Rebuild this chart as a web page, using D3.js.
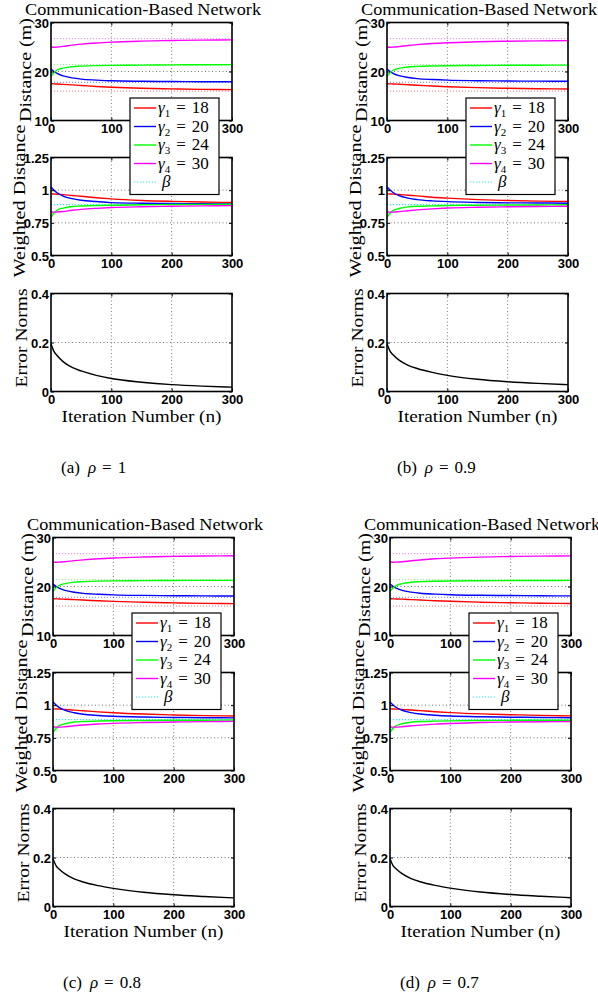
<!DOCTYPE html>
<html>
<head>
<meta charset="utf-8">
<script src="https://cdn.jsdelivr.net/npm/d3@7"></script>
<style>
  body { margin: 0; background: #fff; }
  .tick text { font-family: "Liberation Sans Narrow", "Liberation Sans", Arial, sans-serif; font-weight: bold; font-size: 13px; fill: #000; }
  .serif { font-family: "Liberation Serif", "Times New Roman", serif; fill: #000; }
</style>
</head>
<body>
<div id="chart"></div>
<script>
var iterN = [0, 5, 10, 20, 35, 50, 75, 100, 150, 200, 250, 300];

var panelTags = ["(a)", "(b)", "(c)", "(d)"];
var rhoValues = ["1", "0.9", "0.8", "0.7"];
var gammaValues = [18, 20, 24, 30];
var betaValue = 0.89;
var targetDist = [16.0, 17.8, 21.4, 26.7];

var distTicks = [10, 20, 30];
var weightTicks = [0.5, 0.75, 1, 1.25];
var errTicks = [0, 0.2, 0.4];
var iterTicks = [0, 100, 200, 300];

// distance (m), one row per panel
var distRed = [
  [17.5, 17.48, 17.45, 17.38, 17.27, 17.15, 16.95, 16.8, 16.58, 16.45, 16.36, 16.3],
  [17.5, 17.48, 17.46, 17.4, 17.3, 17.2, 17.03, 16.9, 16.7, 16.57, 16.49, 16.44],
  [17.5, 17.48, 17.46, 17.41, 17.32, 17.23, 17.08, 16.96, 16.78, 16.65, 16.56, 16.5],
  [17.5, 17.48, 17.46, 17.42, 17.33, 17.24, 17.1, 16.98, 16.8, 16.68, 16.59, 16.53]
];
var distBlue = [
  [20.5, 20.0, 19.6, 19.1, 18.7, 18.45, 18.25, 18.1, 18.0, 17.95, 17.92, 17.9],
  [20.5, 20.02, 19.64, 19.16, 18.78, 18.55, 18.36, 18.23, 18.12, 18.06, 18.03, 18.0],
  [20.5, 20.03, 19.66, 19.2, 18.83, 18.6, 18.42, 18.3, 18.18, 18.12, 18.08, 18.05],
  [20.5, 20.04, 19.68, 19.22, 18.86, 18.63, 18.45, 18.33, 18.21, 18.15, 18.11, 18.08]
];
var distGreen = [
  [19.0, 19.8, 20.3, 20.7, 21.0, 21.1, 21.2, 21.25, 21.3, 21.35, 21.38, 21.4],
  [19.0, 19.75, 20.25, 20.65, 20.93, 21.04, 21.13, 21.18, 21.23, 21.27, 21.29, 21.3],
  [19.0, 19.72, 20.2, 20.6, 20.9, 21.0, 21.1, 21.15, 21.2, 21.23, 21.25, 21.26],
  [19.0, 19.7, 20.18, 20.58, 20.88, 20.99, 21.08, 21.13, 21.18, 21.21, 21.23, 21.24]
];
var distMag = [
  [25.0, 24.96, 24.98, 25.12, 25.38, 25.58, 25.83, 26.0, 26.2, 26.32, 26.4, 26.45],
  [25.0, 24.96, 24.97, 25.08, 25.3, 25.48, 25.72, 25.88, 26.06, 26.18, 26.25, 26.3],
  [25.0, 24.96, 24.97, 25.06, 25.27, 25.44, 25.67, 25.83, 26.02, 26.14, 26.22, 26.27],
  [25.0, 24.96, 24.97, 25.05, 25.25, 25.42, 25.65, 25.8, 26.0, 26.12, 26.2, 26.25]
];

// weighted distance
var wRed = [
  [0.972, 0.971, 0.969, 0.966, 0.959, 0.953, 0.942, 0.933, 0.921, 0.914, 0.909, 0.906],
  [0.972, 0.971, 0.970, 0.967, 0.961, 0.956, 0.946, 0.939, 0.928, 0.921, 0.916, 0.913],
  [0.972, 0.971, 0.970, 0.967, 0.962, 0.957, 0.949, 0.942, 0.932, 0.925, 0.920, 0.917],
  [0.972, 0.971, 0.970, 0.968, 0.963, 0.958, 0.950, 0.943, 0.933, 0.927, 0.922, 0.918]
];
var wBlue = [
  [1.025, 1.0, 0.98, 0.955, 0.935, 0.923, 0.913, 0.905, 0.9, 0.898, 0.896, 0.895],
  [1.025, 1.001, 0.982, 0.958, 0.939, 0.928, 0.918, 0.912, 0.906, 0.903, 0.902, 0.9],
  [1.025, 1.002, 0.983, 0.96, 0.942, 0.93, 0.921, 0.915, 0.909, 0.906, 0.904, 0.903],
  [1.025, 1.002, 0.984, 0.961, 0.943, 0.932, 0.923, 0.917, 0.911, 0.908, 0.906, 0.904]
];
var wGreen = [
  [0.792, 0.825, 0.846, 0.863, 0.875, 0.879, 0.883, 0.885, 0.888, 0.89, 0.891, 0.892],
  [0.792, 0.823, 0.844, 0.86, 0.872, 0.877, 0.88, 0.883, 0.885, 0.886, 0.887, 0.888],
  [0.792, 0.822, 0.842, 0.858, 0.871, 0.875, 0.879, 0.881, 0.883, 0.885, 0.885, 0.886],
  [0.792, 0.821, 0.841, 0.858, 0.87, 0.875, 0.878, 0.88, 0.883, 0.884, 0.885, 0.885]
];
var wMag = [
  [0.833, 0.832, 0.833, 0.837, 0.846, 0.853, 0.861, 0.867, 0.873, 0.877, 0.88, 0.882],
  [0.833, 0.832, 0.832, 0.836, 0.843, 0.849, 0.857, 0.863, 0.869, 0.873, 0.875, 0.877],
  [0.833, 0.832, 0.832, 0.835, 0.842, 0.848, 0.856, 0.861, 0.867, 0.871, 0.874, 0.876],
  [0.833, 0.832, 0.832, 0.835, 0.842, 0.847, 0.855, 0.86, 0.867, 0.871, 0.873, 0.875]
];

// error norms
var errNorm = [
  [0.195, 0.163, 0.147, 0.122, 0.098, 0.084, 0.066, 0.053, 0.038, 0.028, 0.022, 0.018],
  [0.195, 0.165, 0.15, 0.128, 0.107, 0.094, 0.078, 0.066, 0.05, 0.04, 0.033, 0.028],
  [0.195, 0.167, 0.153, 0.133, 0.113, 0.1, 0.085, 0.074, 0.058, 0.048, 0.041, 0.035],
  [0.195, 0.167, 0.154, 0.134, 0.114, 0.101, 0.086, 0.075, 0.059, 0.049, 0.042, 0.036]
];

var colors = ["#ff0000", "#0000ff", "#00ff00", "#ff00ff"];
var betaColor = "#00ffff";

// panel origins (left edge of axes, vertical offset)
var panelPos = [[51, 0], [387, 0], [53, 515], [390, 515]];
var axW = 181, axH = 98;
var axTops = [22.5, 157.5, 293.5];

var svg = d3.select("#chart").append("svg")
  .attr("width", 598).attr("height", 1000);

function drawGrid(g, x, y, yTicks) {
  // dotted grid
  g.selectAll(".gx").data(iterTicks.filter(function(d) { return d > 0 && d < 300; }))
    .enter().append("line")
    .attr("x1", function(d) { return x(d); }).attr("x2", function(d) { return x(d); })
    .attr("y1", 0).attr("y2", axH)
    .attr("stroke", "#555").attr("stroke-width", 0.8).attr("stroke-dasharray", "1,2.5");
  var yd = y.domain();
  g.selectAll(".gy").data(yTicks.filter(function(d) { return d > yd[0] && d < yd[1]; }))
    .enter().append("line")
    .attr("x1", 0).attr("x2", axW)
    .attr("y1", function(d) { return y(d); }).attr("y2", function(d) { return y(d); })
    .attr("stroke", "#555").attr("stroke-width", 0.8).attr("stroke-dasharray", "1,2.5");
}

function finishAxes(g, x, y, yTicks, yFmt) {
  g.append("rect").attr("width", axW).attr("height", axH)
    .attr("fill", "none").attr("stroke", "#000").attr("stroke-width", 1.6);

  var ax = g.append("g").call(d3.axisLeft(y).tickValues(yTicks).tickFormat(yFmt).tickSize(-3).tickPadding(2));
  ax.select(".domain").remove();
  ax.selectAll(".tick text").attr("dy", "0.35em");
  var ar = g.append("g").attr("transform", "translate(" + axW + ",0)")
    .call(d3.axisRight(y).tickValues(yTicks).tickFormat("").tickSize(-3));
  ar.select(".domain").remove();

  var bx = g.append("g").attr("transform", "translate(0," + axH + ")")
    .call(d3.axisBottom(x).tickValues(iterTicks).tickSize(-3).tickPadding(3));
  bx.select(".domain").remove();
  bx.selectAll(".tick text").attr("dy", "0.71em");
  var tx = g.append("g")
    .call(d3.axisTop(x).tickValues(iterTicks).tickFormat("").tickSize(-3));
  tx.select(".domain").remove();
  g.selectAll(".tick line").attr("stroke", "#000").attr("stroke-width", 1);
}

function drawPanel(p) {
  var ox = panelPos[p][0], oy = panelPos[p][1];
  var x = d3.scaleLinear().domain([0, 300]).range([0, axW]);

  var yDist = d3.scaleLinear().domain([10, 30]).range([axH, 0]);
  var yW = d3.scaleLinear().domain([0.5, 1.25]).range([axH, 0]);
  var yE = d3.scaleLinear().domain([0, 0.4]).range([axH, 0]);

  var gTop = svg.append("g").attr("transform", "translate(" + ox + "," + (oy + axTops[0]) + ")");
  var gMid = svg.append("g").attr("transform", "translate(" + ox + "," + (oy + axTops[1]) + ")");
  var gBot = svg.append("g").attr("transform", "translate(" + ox + "," + (oy + axTops[2]) + ")");

  // --- top: distance
  drawGrid(gTop, x, yDist, distTicks);
  targetDist.forEach(function(t, i) {
    gTop.append("line").attr("x1", 0).attr("x2", axW)
      .attr("y1", yDist(t)).attr("y2", yDist(t))
      .attr("stroke", colors[i]).attr("stroke-opacity", 0.55)
      .attr("stroke-width", 1).attr("stroke-dasharray", "1,2");
  });
  var distSeries = [distRed[p], distBlue[p], distGreen[p], distMag[p]];
  var lineD = d3.line().x(function(d, i) { return x(iterN[i]); }).y(function(d) { return yDist(d); })
    .curve(d3.curveMonotoneX);
  distSeries.forEach(function(s, i) {
    gTop.append("path").attr("d", lineD(s)).attr("fill", "none")
      .attr("stroke", colors[i]).attr("stroke-width", 1.4);
  });
  finishAxes(gTop, x, yDist, distTicks, d3.format("d"));

  // --- middle: weighted distance
  drawGrid(gMid, x, yW, weightTicks);
  gMid.append("line").attr("x1", 0).attr("x2", axW)
    .attr("y1", yW(betaValue)).attr("y2", yW(betaValue))
    .attr("stroke", betaColor).attr("stroke-width", 1.2).attr("stroke-dasharray", "1,2");
  var wSeries = [wRed[p], wBlue[p], wGreen[p], wMag[p]];
  var lineW = d3.line().x(function(d, i) { return x(iterN[i]); }).y(function(d) { return yW(d); })
    .curve(d3.curveMonotoneX);
  wSeries.forEach(function(s, i) {
    gMid.append("path").attr("d", lineW(s)).attr("fill", "none")
      .attr("stroke", colors[i]).attr("stroke-width", 1.4);
  });
  finishAxes(gMid, x, yW, weightTicks, function(d) { return String(d); });

  // --- bottom: error norms
  drawGrid(gBot, x, yE, errTicks);
  var lineE = d3.line().x(function(d, i) { return x(iterN[i]); }).y(function(d) { return yE(d); })
    .curve(d3.curveMonotoneX);
  gBot.append("path").attr("d", lineE(errNorm[p])).attr("fill", "none")
    .attr("stroke", "#000").attr("stroke-width", 1.4);
  finishAxes(gBot, x, yE, errTicks, function(d) { return String(d); });

  // titles and labels
  svg.append("text").attr("class", "serif")
    .attr("x", ox + axW / 2 + 1.5).attr("y", oy + 14.5)
    .attr("text-anchor", "middle").attr("font-size", 16)
    .attr("textLength", 236).attr("lengthAdjust", "spacingAndGlyphs")
    .text("Communication-Based Network");

  var ylabs = [["Distance (m)", 70, -20, 104], ["Weighted Distance", 201, -26, 153], ["Error Norms", 338, -24, 99]];
  ylabs.forEach(function(l) {
    svg.append("text").attr("class", "serif")
      .attr("transform", "translate(" + (ox + l[2]) + "," + (oy + l[1]) + ") rotate(-90)")
      .attr("text-anchor", "middle").attr("font-size", 16)
      .attr("textLength", l[3]).attr("lengthAdjust", "spacingAndGlyphs")
      .text(l[0]);
  });

  svg.append("text").attr("class", "serif")
    .attr("x", ox + axW / 2).attr("y", oy + 422)
    .attr("text-anchor", "middle").attr("font-size", 16)
    .attr("textLength", 160).attr("lengthAdjust", "spacingAndGlyphs")
    .text("Iteration Number (n)");

  // caption
  var cap = svg.append("text").attr("class", "serif")
    .attr("x", ox + 10).attr("y", oy + 473).attr("font-size", 17);
  cap.append("tspan").text(panelTags[p]);
  cap.append("tspan").attr("dx", 8).attr("font-style", "italic").text("\u03C1");
  cap.append("tspan").attr("dx", 6).text("=");
  cap.append("tspan").attr("dx", 6).text(rhoValues[p]);

  // legend (overlaps top and middle axes)
  var lg = svg.append("g").attr("transform", "translate(" + (ox + 79) + "," + (oy + 98) + ")");
  lg.append("rect").attr("width", 89).attr("height", 96.5)
    .attr("fill", "#fff").attr("stroke", "#000").attr("stroke-width", 1.2);
  gammaValues.forEach(function(gv, i) {
    var cy = 10 + i * 18.5;
    lg.append("line").attr("x1", 4).attr("x2", 26).attr("y1", cy).attr("y2", cy)
      .attr("stroke", colors[i]).attr("stroke-width", 1.4);
    var t = lg.append("text").attr("class", "serif").attr("x", 28).attr("y", cy + 5).attr("font-size", 17);
    t.append("tspan").attr("font-style", "italic").text("\u03B3");
    t.append("tspan").attr("font-size", 11).attr("dy", 4).text(i + 1);
    t.append("tspan").attr("dy", -4).attr("dx", 6).text("=");
    t.append("tspan").attr("dx", 6).text(gv);
  });
  var by = 10 + 4 * 18.5;
  lg.append("line").attr("x1", 4).attr("x2", 26).attr("y1", by).attr("y2", by)
    .attr("stroke", betaColor).attr("stroke-width", 1.2).attr("stroke-dasharray", "1,2");
  lg.append("text").attr("class", "serif").attr("x", 32).attr("y", by + 5)
    .attr("font-size", 17).attr("font-style", "italic").attr("fill", "#555").text("\u03B2");
}

for (var p = 0; p < 4; p++) drawPanel(p);
</script>
</body>
</html>
